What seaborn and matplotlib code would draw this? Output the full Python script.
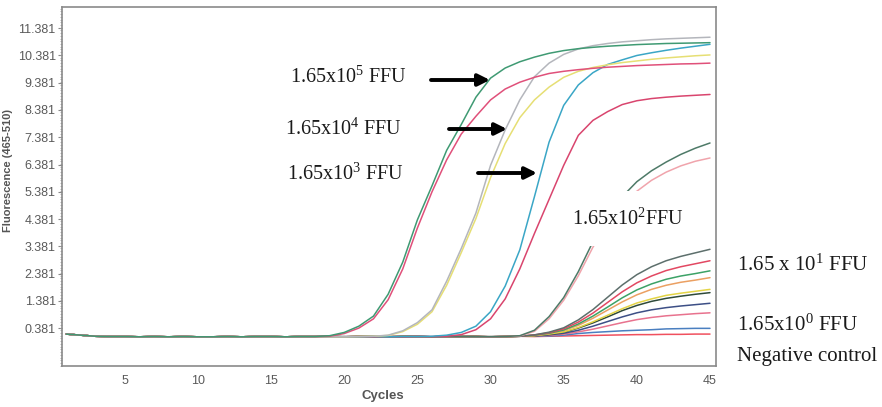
import matplotlib
matplotlib.use("Agg")
import matplotlib.pyplot as plt
from matplotlib.patches import Rectangle
from matplotlib.ticker import MultipleLocator
import seaborn as sns
import pandas as pd

# ---------------- data ----------------
cycles = list(range(1, 46))
baseline = [0.16, 0.12, 0.08, 0.07, 0.07, 0.06, 0.07, 0.06, 0.07,
            0.06, 0.06, 0.07, 0.06, 0.07, 0.07, 0.06, 0.07, 0.07]          # cycles 1-18
late_base = [0.07, 0.06, 0.07, 0.07, 0.06, 0.07, 0.07,
             0.06, 0.07, 0.07, 0.07, 0.06, 0.07, 0.08]                      # cycles 19-32
mid_base = [0.06, 0.07, 0.06, 0.07, 0.07, 0.06, 0.07,
            0.06, 0.07, 0.07, 0.06, 0.07, 0.07]                             # cycles 19-31

# 1.65x10^5 FFU (cycles 19-45)
e5_green = [0.10, 0.22, 0.45, 0.82, 1.62, 2.80, 4.35, 5.60, 6.90, 7.85, 8.85, 9.55, 9.92, 10.15,
            10.32, 10.46, 10.56, 10.63, 10.68, 10.72, 10.75, 10.78, 10.80, 10.82, 10.83, 10.84, 10.85]
e5_pink = [0.08, 0.18, 0.38, 0.72, 1.42, 2.55, 4.05, 5.38, 6.55, 7.50, 8.15, 8.75, 9.15, 9.40,
           9.58, 9.72, 9.80, 9.86, 9.91, 9.95, 9.98, 10.01, 10.03, 10.05, 10.07, 10.08, 10.10]
# 1.65x10^4 FFU (cycles 19-45)
e4_grey = [0.06, 0.06, 0.07, 0.08, 0.12, 0.28, 0.58, 1.05, 2.10, 3.30, 4.60, 6.35, 7.65, 8.75,
           9.60, 10.10, 10.42, 10.62, 10.74, 10.82, 10.88, 10.92, 10.96, 10.99, 11.01, 11.03, 11.05]
e4_yellow = [0.06, 0.06, 0.07, 0.08, 0.11, 0.25, 0.52, 0.98, 1.95, 3.15, 4.40, 5.90, 7.15, 8.10,
             8.75, 9.22, 9.58, 9.80, 9.94, 10.04, 10.12, 10.18, 10.24, 10.29, 10.33, 10.37, 10.40]
# 1.65x10^3 FFU (cycles 19-45)
e3_blue = [0.06, 0.06, 0.06, 0.07, 0.06, 0.07, 0.07, 0.08, 0.12, 0.22, 0.45, 0.98, 1.92, 3.25,
           5.20, 7.20, 8.55, 9.30, 9.75, 10.05, 10.22, 10.38, 10.48, 10.57, 10.65, 10.72, 10.79]
e3_pink = [0.06, 0.06, 0.06, 0.06, 0.07, 0.06, 0.07, 0.07, 0.08, 0.14, 0.32, 0.72, 1.45, 2.55,
           3.85, 5.10, 6.35, 7.45, 8.00, 8.32, 8.58, 8.72, 8.80, 8.85, 8.89, 8.92, 8.95]
# 1.65x10^2 FFU (cycles 32-45)
e2_green = [0.10, 0.30, 0.80, 1.50, 2.45, 3.55, 4.45, 5.20, 5.75, 6.15, 6.47, 6.75, 6.98, 7.17]
e2_pink = [0.09, 0.26, 0.72, 1.40, 2.30, 3.35, 4.20, 4.90, 5.40, 5.80, 6.10, 6.33, 6.50, 6.62]
# 1.65x10^1 / 10^0 FFU and negative control (cycles 33-45)
e1_a = [0.13, 0.23, 0.39, 0.68, 1.06, 1.51, 1.96, 2.34, 2.63, 2.85, 3.01, 3.14, 3.27]
e1_b = [0.13, 0.21, 0.35, 0.60, 0.93, 1.32, 1.71, 2.04, 2.29, 2.49, 2.63, 2.74, 2.85]
e1_c = [0.12, 0.19, 0.31, 0.53, 0.82, 1.15, 1.49, 1.78, 2.00, 2.17, 2.29, 2.38, 2.48]
e1_d = [0.11, 0.18, 0.29, 0.48, 0.74, 1.04, 1.34, 1.60, 1.80, 1.95, 2.06, 2.14, 2.23]
e0_a = [0.10, 0.16, 0.24, 0.40, 0.61, 0.85, 1.09, 1.30, 1.45, 1.58, 1.66, 1.73, 1.80]
e0_b = [0.10, 0.15, 0.23, 0.38, 0.57, 0.79, 1.02, 1.21, 1.36, 1.47, 1.55, 1.62, 1.68]
e0_c = [0.09, 0.13, 0.19, 0.30, 0.45, 0.62, 0.79, 0.94, 1.05, 1.13, 1.19, 1.24, 1.29]
e0_d = [0.09, 0.11, 0.16, 0.24, 0.34, 0.46, 0.58, 0.69, 0.77, 0.83, 0.87, 0.91, 0.94]
neg_blue = [0.08, 0.09, 0.12, 0.18, 0.22, 0.25, 0.28, 0.30, 0.32, 0.35, 0.36, 0.37, 0.37]
neg_red = [0.07, 0.08, 0.09, 0.10, 0.11, 0.12, 0.13, 0.14, 0.14, 0.15, 0.15, 0.16, 0.16]

curves = {
    "neg_red": (baseline + late_base + neg_red, "#f0505e"),
    "neg_blue": (baseline + late_base + neg_blue, "#4a7fc0"),
    "e0_d": (baseline + late_base + e0_d, "#e8728e"),
    "e0_c": (baseline + late_base + e0_c, "#3d4f86"),
    "e0_b": (baseline + late_base + e0_b, "#2f4a3a"),
    "e0_a": (baseline + late_base + e0_a, "#e3d445"),
    "e1_d": (baseline + late_base + e1_d, "#eba062"),
    "e1_c": (baseline + late_base + e1_c, "#3ca266"),
    "e1_b": (baseline + late_base + e1_b, "#e24862"),
    "e1_a": (baseline + late_base + e1_a, "#5d6f6c"),
    "e2_pink": (baseline + mid_base + e2_pink, "#f0a4ac"),
    "e2_green": (baseline + mid_base + e2_green, "#4e7a68"),
    "e3_pink": (baseline + e3_pink, "#d9456e"),
    "e3_blue": (baseline + e3_blue, "#3aa6c6"),
    "e4_yellow": (baseline + e4_yellow, "#e6df74"),
    "e4_grey": (baseline + e4_grey, "#b4b6bc"),
    "e5_pink": (baseline + e5_pink, "#e0507a"),
    "e5_green": (baseline + e5_green, "#3f9a73"),
}

x_ticks = [5, 10, 15, 20, 25, 30, 35, 40, 45]
y_ticks = [0.381, 1.381, 2.381, 3.381, 4.381, 5.381, 6.381, 7.381, 8.381, 9.381, 10.381, 11.381]

labels_left = [r"1.65x10$^{5}$ FFU", r"1.65x10$^{4}$ FFU", r"1.65x10$^{3}$ FFU"]
label_e2 = r"1.65x10$^{2}$FFU"
labels_right = [r"1.65 x 10$^{1}$ FFU", r"1.65x10$^{0}$ FFU", "Negative control"]

# ---------------- styling ----------------
sns.set_style("white")
plt.rcParams["font.family"] = ["Liberation Sans", "DejaVu Sans"]
plt.rcParams["mathtext.fontset"] = "custom"
plt.rcParams["mathtext.rm"] = "Liberation Serif"
plt.rcParams["mathtext.it"] = "Liberation Serif:italic"

W, H = 882, 407
fig = plt.figure(figsize=(W / 100, H / 100), dpi=100)
ax = fig.add_axes([62 / W, 41.3 / H, 654 / W, 359 / H])

rows = []
for name, (vals, col) in curves.items():
    for c, v in zip(cycles, vals):
        rows.append({"well": name, "cycle": c, "fluor": v})
df = pd.DataFrame(rows)
palette = {name: col for name, (vals, col) in curves.items()}
sns.lineplot(data=df, x="cycle", y="fluor", hue="well", hue_order=list(curves.keys()),
             palette=palette, estimator=None, sort=False, legend=False, linewidth=1.1, ax=ax)

ax.set_xlim(0.71, 45.41)
ax.set_ylim(-1.0, 12.17)
ax.set_xticks(x_ticks)
ax.set_xticklabels([str(t) for t in x_ticks])
ax.set_yticks(y_ticks)
ax.set_yticklabels([f"{t:.3f}" for t in y_ticks])
ax.yaxis.set_minor_locator(MultipleLocator(0.1))
ax.tick_params(axis="x", length=0, pad=7, labelsize=9, labelcolor="#5a5a5a")
ax.tick_params(axis="y", which="major", length=3, width=0.8, color="#888888",
               labelsize=9, labelcolor="#5a5a5a", pad=1.5, left=True)
ax.tick_params(axis="y", which="minor", length=1.5, width=0.6, color="#aaaaaa", left=True)
for sp in ax.spines.values():
    sp.set_color("#8a8a8a")
    sp.set_linewidth(1.2)

ax.set_xlabel("Cycles", fontsize=9.5, fontweight="bold", color="#555555")
ax.set_ylabel("Fluorescence (465-510)", fontsize=8, fontweight="bold", color="#555555")
ax.xaxis.set_label_coords(0.49, -0.068)
ax.yaxis.set_label_coords(-0.075, 0.543)

# white mask behind the 10^2 label
ax.add_patch(Rectangle((35.1, 3.39), 9.2, 2.02, facecolor="white", edgecolor="none", zorder=3))

serif = ["Liberation Serif", "DejaVu Serif"]
def fx(px):
    return px / W
def fy(py):
    return 1 - py / H

for lab, (px, py) in zip(labels_left, [(290, 77), (285, 129), (287, 174)]):
    fig.text(fx(px), fy(py), lab, family=serif, fontsize=14.5, va="center", ha="left", color="#1a1a1a")
fig.text(fx(572), fy(219), label_e2, family=serif, fontsize=14.5, va="center", ha="left",
         color="#1a1a1a", zorder=5)
for lab, (px, py) in zip(labels_right, [(737, 265), (737, 325), (737, 357)]):
    fig.text(fx(px), fy(py), lab, family=serif, fontsize=15, va="center", ha="left", color="#1a1a1a")

for (x1, x2, py) in [(431, 490, 80), (449, 507, 129), (478, 537, 173)]:
    ax.annotate("", xy=(fx(x2), fy(py)), xytext=(fx(x1), fy(py)), xycoords="figure fraction",
                textcoords="figure fraction",
                arrowprops=dict(arrowstyle="-|>,head_length=0.7,head_width=0.35", lw=2.8,
                                color="black", shrinkA=0, shrinkB=0))

fig.savefig("out.png", dpi=100)
